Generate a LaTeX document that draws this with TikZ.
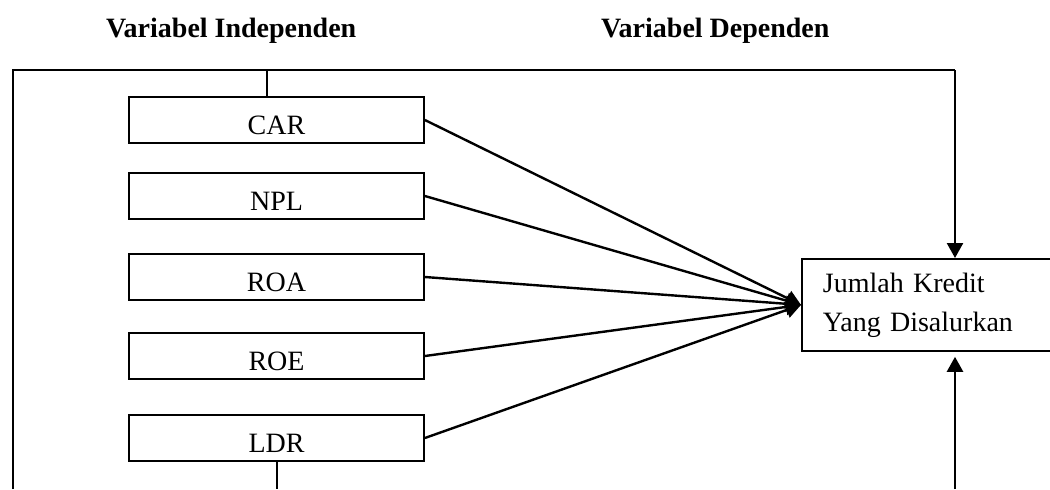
\documentclass[tikz,border=0pt]{standalone}
\usepackage{fontspec}
\setmainfont{Liberation Serif}
\usetikzlibrary{arrows.meta}
\begin{document}
\begin{tikzpicture}[x=0.5pt,y=-0.5pt,
  every node/.style={font=\fontsize{14}{19.5}\selectfont},
  varbox/.style={draw, line width=0.9pt, minimum width=147.5pt, minimum height=23pt,
    inner ysep=0pt, text height=14pt, text depth=0pt},
  head/.style={anchor=base west, font=\fontsize{14}{17}\selectfont\bfseries},
  ln/.style={line width=1.1pt},
  arr/.style={line width=1.2pt, -{Triangle[width=8pt,length=7.5pt]}}]
\clip (0,0) rectangle (1050,489);
\fill[white] (0,0) rectangle (1050,489);
% headings
\node[head] (h1) at (99,37) {Variabel Independen};
\node[head] (h2) at (594,37) {Variabel Dependen};
% independent variable boxes
\node[varbox] (CAR) at (276.5,120) {CAR};
\node[varbox] (NPL) at (276.5,196) {NPL};
\node[varbox] (ROA) at (276.5,277) {ROA};
\node[varbox] (ROE) at (276.5,356) {ROE};
\node[varbox] (LDR) at (276.5,438) {LDR};
% dependent variable box
\node[draw, line width=0.9pt, anchor=north west, minimum height=46pt,
  inner xsep=10.5pt, inner ysep=0pt, text width=110pt, align=left] (J) at (801,258)
  {Jumlah Kredit\\Yang Disalurkan};
% frame lines
\coordinate (bl) at (13,489);
\coordinate (tl) at (13,70);
\coordinate (tr) at (955,70);
\coordinate (br) at (955,489);
\coordinate (c1) at (267,70);
\coordinate (c2) at (277,489);
\draw[ln] (bl) -- (tl) -- (tr);
\draw[arr] (tr) -- (tr |- J.north);
\draw[arr] (br) -- ([yshift=-2.5pt]br |- J.south);
\draw[ln] (c1) -- (c1 |- CAR.north);
\draw[ln] (c2 |- LDR.south) -- (c2);
% converging arrows
\foreach \v in {CAR,NPL,ROA,ROE,LDR}
  \draw[arr] (\v.east) -- (J.west);
\end{tikzpicture}
\end{document}
